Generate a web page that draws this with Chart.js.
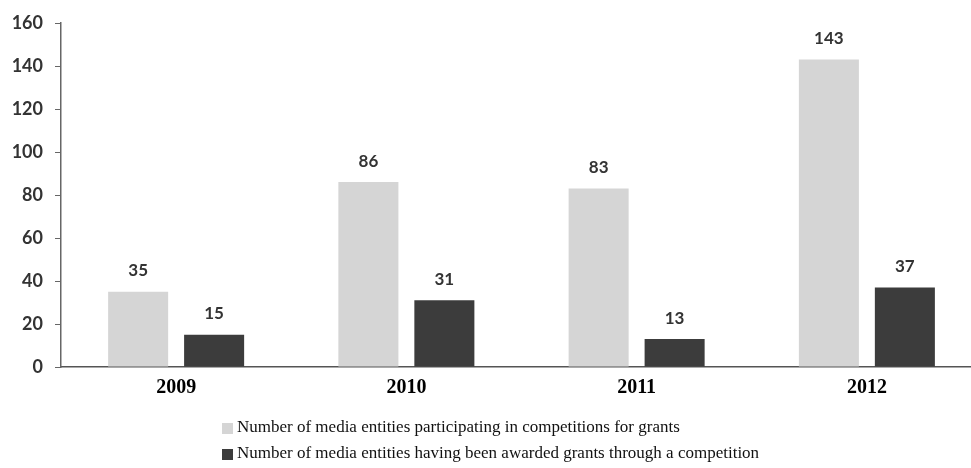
<!DOCTYPE html>
<html>
<head>
<meta charset="utf-8">
<script src="https://cdn.jsdelivr.net/npm/chart.js@4.4.1/dist/chart.umd.min.js"></script>
<style>
  html, body { margin: 0; padding: 0; background: #fff; overflow: hidden; }
  #wrap { width: 985px; height: 468px; }
</style>
</head>
<body>
<div id="wrap"><canvas id="myChart"></canvas></div>
<script>
const years = ['2009', '2010', '2011', '2012']
const participating = [35, 86, 83, 143]
const awarded = [15, 31, 13, 37]
const yTicks = [0, 20, 40, 60, 80, 100, 120, 140, 160]
const seriesNames = [
    'Number of media entities participating in competitions for grants',
    'Number of media entities having been awarded grants through a competition',
]

// value labels above each bar
const valueLabels = {
    id: 'valueLabels',
    afterDatasetsDraw(chart) {
        const ctx = chart.ctx
        ctx.save()
        ctx.font = 'bold 17px Lato'
        ctx.fillStyle = '#333'
        ctx.textAlign = 'center'
        ctx.textBaseline = 'middle'
        chart.data.datasets.forEach((ds, i) => {
            chart.getDatasetMeta(i).data.forEach((bar, j) => {
                ctx.fillText(ds.data[j], bar.x, bar.y - 21)
            })
        })
        ctx.restore()
    },
}

// two-line legend under the axis
const stackedLegend = {
    id: 'stackedLegend',
    afterDraw(chart) {
        const ctx = chart.ctx
        ctx.save()
        ctx.font = '17px "Liberation Serif"'
        ctx.textBaseline = 'middle'
        chart.data.datasets.forEach((ds, i) => {
            const y = 428 + i * 26
            ctx.fillStyle = ds.backgroundColor
            ctx.fillRect(222, y - 5, 11, 11)
            ctx.fillStyle = '#111'
            ctx.fillText(ds.label, 237, y)
        })
        ctx.restore()
    },
}

function render_chart() {
    const data = {
        labels: years,
        datasets: [
            { label: seriesNames[0], data: participating, backgroundColor: '#d5d5d5' },
            { label: seriesNames[1], data: awarded, backgroundColor: '#3c3c3c' },
        ],
    }
    const config = {
        type: 'bar',
        data: data,
        options: {
            responsive: true,
            maintainAspectRatio: false,
            animation: false,
            layout: { padding: { top: 23, right: 3, left: 0, bottom: 0 } },
            datasets: { bar: { categoryPercentage: 0.66, barPercentage: 0.79 } },
            plugins: { legend: { display: false }, tooltip: { enabled: false } },
            scales: {
                x: {
                    afterFit: (s) => { s.height = 101 },
                    grid: { drawOnChartArea: false, drawTicks: false },
                    border: { color: '#555', width: 1.5 },
                    ticks: {
                        padding: 9,
                        color: '#000',
                        font: { family: 'Liberation Serif', size: 20, weight: 'bold' },
                    },
                },
                y: {
                    min: 0,
                    max: 160,
                    afterFit: (s) => { s.width = 61 },
                    afterBuildTicks: (s) => { s.ticks = yTicks.map(v => ({ value: v })) },
                    grid: { drawOnChartArea: false, tickLength: 6, color: '#666' },
                    border: { color: '#666', width: 1.5 },
                    ticks: {
                        padding: 12,
                        color: '#333',
                        font: { family: 'Lato', size: 18, weight: 'bold' },
                    },
                },
            },
        },
        plugins: [valueLabels, stackedLegend],
    }
    const myChart = new Chart(document.getElementById('myChart'), config)
}
document.addEventListener('DOMContentLoaded', render_chart)
</script>
</body>
</html>
